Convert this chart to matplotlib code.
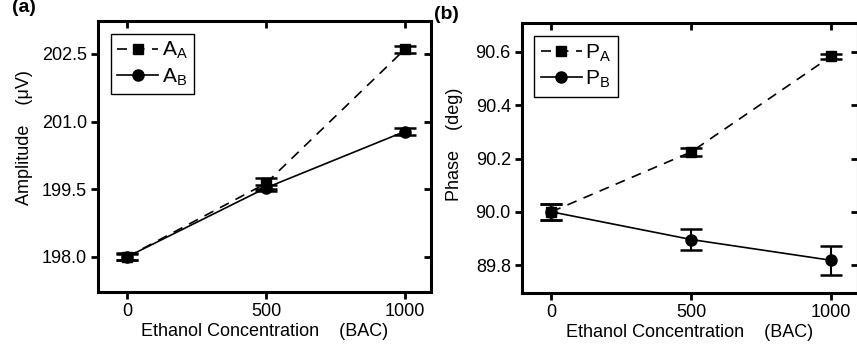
import numpy as np
import matplotlib
matplotlib.use('Agg')
import matplotlib.pyplot as plt

plt.rcParams['font.family'] = ['Liberation Sans', 'DejaVu Sans']
plt.rcParams['mathtext.fontset'] = 'custom'
plt.rcParams['mathtext.rm'] = 'Liberation Sans'

"""Dados lidos do gráfico"""
conc = [0, 500, 1000]

amp_a = [198.0, 199.63, 202.6]
amp_a_err = [0.08, 0.12, 0.07]
amp_b = [198.0, 199.53, 200.78]
amp_b_err = [0.07, 0.06, 0.08]

phase_a = [90.0, 90.225, 90.584]
phase_a_err = [0.03, 0.014, 0.01]
phase_b = [90.0, 89.896, 89.818]
phase_b_err = [0.03, 0.039, 0.054]

amp_ticks = [198.0, 199.5, 201.0, 202.5]
phase_ticks = [89.8, 90.0, 90.2, 90.4, 90.6]


def style_axes(ax):
    for s in ax.spines.values():
        s.set_linewidth(2.2)
    ax.tick_params(axis='both', which='major', labelsize=13, width=2, length=5,
                   direction='out', top=False, right=False, pad=3)
    ax.tick_params(axis='x', top=True, labeltop=False)
    ax.tick_params(axis='y', right=True, labelright=False)
    for t in ax.xaxis.get_major_ticks():
        t.tick2line.set_marker(matplotlib.lines.TICKDOWN)
    for t in ax.yaxis.get_major_ticks():
        t.tick2line.set_marker(matplotlib.lines.TICKLEFT)


def draw_panel(ax, ya, ya_err, yb, yb_err, la, lb):
    ax.errorbar(conc, ya, yerr=ya_err, color='black', linestyle=(0, (6, 4.5)), linewidth=1.2,
                marker='s', markersize=7.5, capsize=8, capthick=1.8, elinewidth=1.5, label=la)
    ax.errorbar(conc, yb, yerr=yb_err, color='black', linestyle='-', linewidth=1.2,
                marker='o', markersize=8, capsize=8, capthick=1.8, elinewidth=1.5, label=lb)
    ax.set_xlim(-105, 1095)
    ax.set_xticks(conc)
    ax.set_xlabel("Ethanol Concentration    (BAC)", fontsize=13, labelpad=2)
    handles, labels = ax.get_legend_handles_labels()
    handles = [h[0] for h in handles]
    leg = ax.legend(handles, labels, loc='upper left', fontsize=15, frameon=True, fancybox=False,
                    edgecolor='black', framealpha=1, borderaxespad=0.6, handlelength=2.0,
                    handletextpad=0.15, borderpad=0.3, labelspacing=0.25)
    leg.get_frame().set_linewidth(1.0)


fig = plt.figure(figsize=(8.57, 3.51), dpi=100)
ax1 = fig.add_axes([0.1144, 0.168, 0.3886, 0.772])
ax2 = fig.add_axes([0.609, 0.165, 0.392, 0.769])

draw_panel(ax1, amp_a, amp_a_err, amp_b, amp_b_err, r'A$_\mathregular{A}$', r'A$_\mathregular{B}$')
ax1.set_ylim(197.22, 203.23)
ax1.set_yticks(amp_ticks)
ax1.set_yticklabels([f"{v:.1f}" for v in amp_ticks])
ax1.set_ylabel("Amplitude    (\u03bcV)", fontsize=13)
ax1.yaxis.set_label_coords(-0.195, 0.57)
style_axes(ax1)

draw_panel(ax2, phase_a, phase_a_err, phase_b, phase_b_err, r'P$_\mathregular{A}$', r'P$_\mathregular{B}$')
ax2.set_ylim(89.695, 90.708)
ax2.set_yticks(phase_ticks)
ax2.set_yticklabels([f"{v:.1f}" for v in phase_ticks])
ax2.set_ylabel("Phase    (deg)", fontsize=13)
ax2.yaxis.set_label_coords(-0.175, 0.55)
style_axes(ax2)

fig.text(12 / 857, 1 + 1 / 351, "(a)", fontsize=14, fontweight='bold', va='top', ha='left')
fig.text(434 / 857, 1 - 6 / 351, "(b)", fontsize=14, fontweight='bold', va='top', ha='left')

fig.savefig("out.png", dpi=100)
